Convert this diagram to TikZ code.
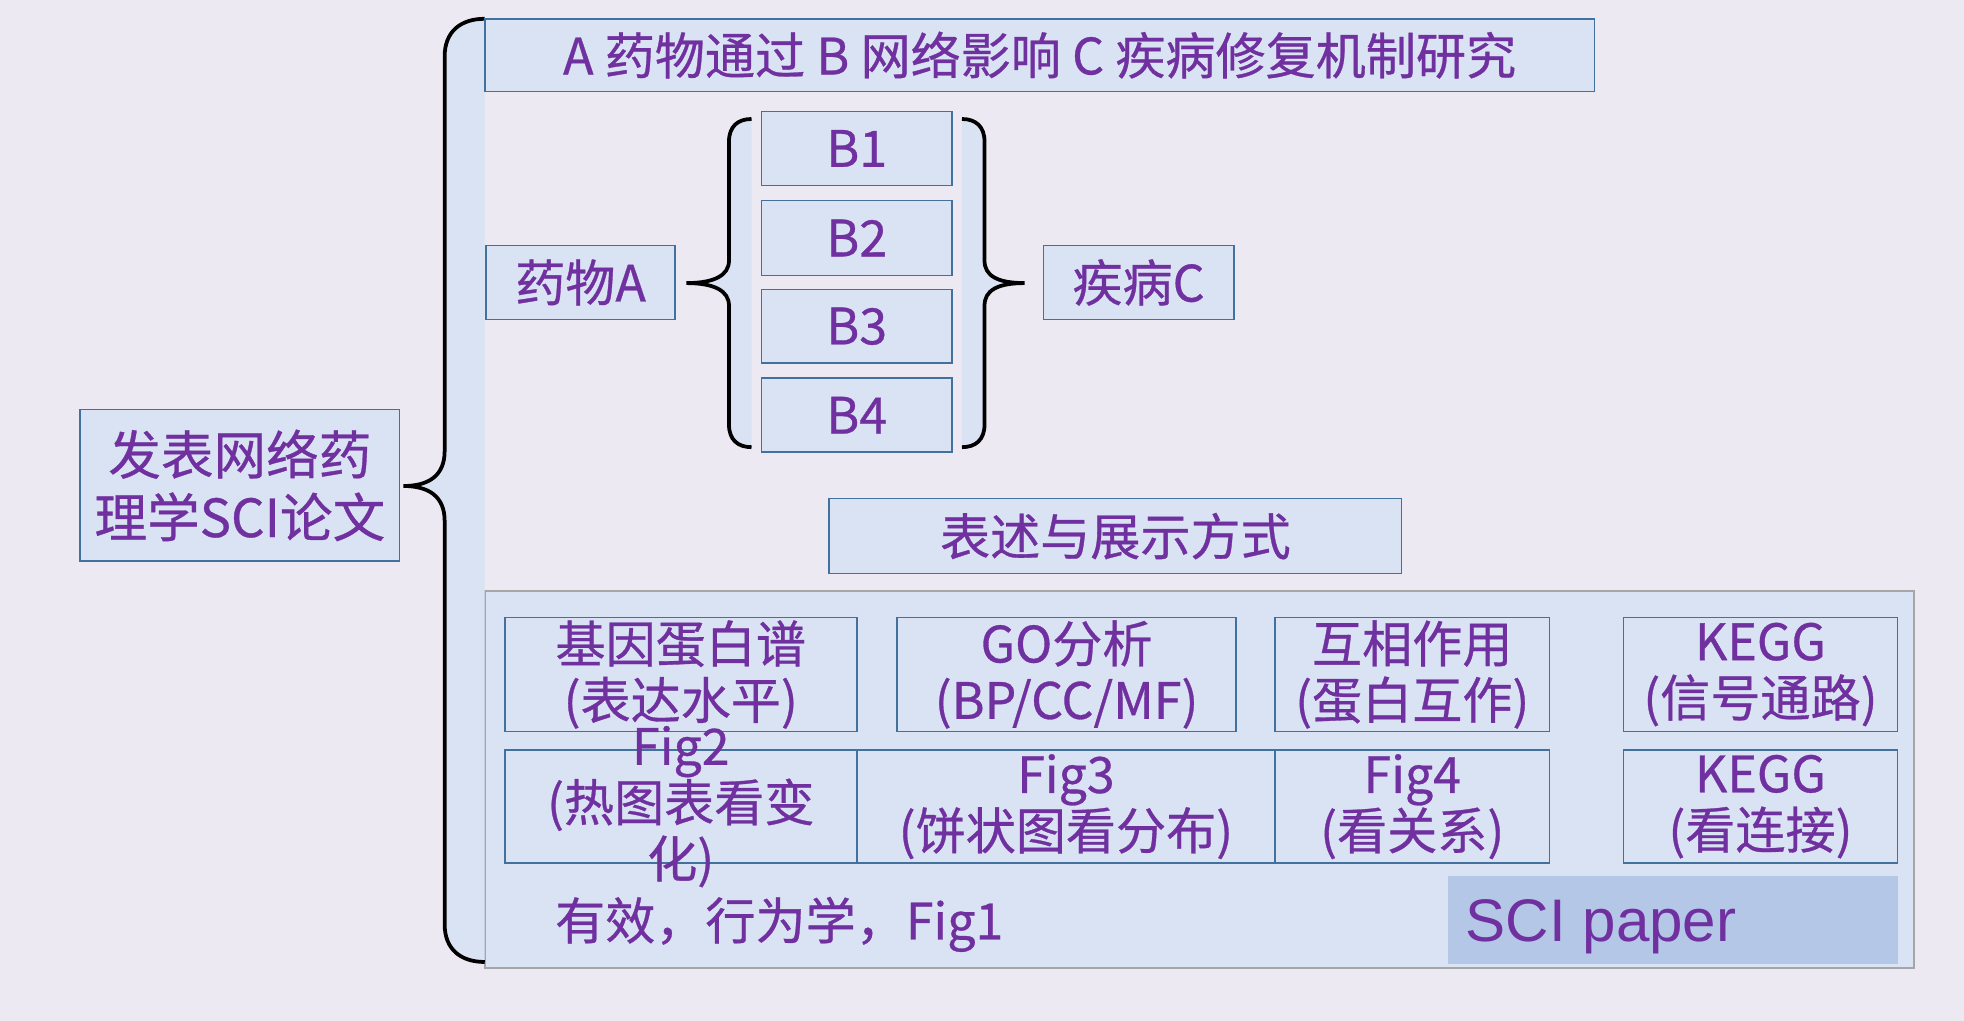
\documentclass[tikz,border=0pt]{standalone}
\usepackage{fontspec}
\setmainfont{Noto Sans CJK SC}[FakeBold=0.6]
\newfontfamily\arialf{Liberation Sans}
\definecolor{bgc}{HTML}{ECE9F2}
\definecolor{boxfill}{HTML}{DAE3F3}
\definecolor{boxline}{HTML}{41719C}
\definecolor{txt}{HTML}{7030A0}
\definecolor{contline}{HTML}{A6A6A6}
\definecolor{scifill}{HTML}{B4C7E7}
\tikzset{
  box/.style={draw=boxline, line width=1.3pt, fill=boxfill, text=txt, inner sep=0pt,
    align=center, font=\fontsize{40}{45}\selectfont},
  bracefill/.style={fill=boxfill, draw=none},
  braceline/.style={draw=black, line width=3pt},
  plaintext/.style={text=txt, inner sep=0pt, align=center, font=\fontsize{40}{45}\selectfont}
}
\begin{document}
\begin{tikzpicture}[x=1pt, y=-1pt]
\useasboundingbox (0,0) rectangle (1568,815);
\fill[bgc] (0,0) rectangle (1568,815);

% big container
\node[draw=contline, line width=1.3pt, fill=boxfill, minimum width=1141pt, minimum height=301pt, inner sep=0pt] (cont) at (957.5,622.5) {};

% big brace
\fill[bracefill] (387,15) .. controls (368,15) and (355,25) .. (355,45) -- (355,360)
  .. controls (355,380) and (342,388) .. (322,388) .. controls (342,388) and (355,396) .. (355,416)
  -- (355,738) .. controls (355,758) and (368,768) .. (387,768) -- cycle;
\draw[braceline] (387,15) .. controls (368,15) and (355,25) .. (355,45) -- (355,360)
  .. controls (355,380) and (342,388) .. (322,388) .. controls (342,388) and (355,396) .. (355,416)
  -- (355,738) .. controls (355,758) and (368,768) .. (387,768);

% small left brace
\fill[bracefill] (600,95) .. controls (589,95) and (582,101) .. (582,113) -- (582,208)
  .. controls (582,220) and (570,226) .. (548,226) .. controls (570,226) and (582,232) .. (582,244)
  -- (582,339) .. controls (582,351) and (589,357) .. (600,357) -- cycle;
\draw[braceline] (600,95) .. controls (589,95) and (582,101) .. (582,113) -- (582,208)
  .. controls (582,220) and (570,226) .. (548,226) .. controls (570,226) and (582,232) .. (582,244)
  -- (582,339) .. controls (582,351) and (589,357) .. (600,357);

% small right brace
\fill[bracefill] (768,95) .. controls (779,95) and (786,101) .. (786,113) -- (786,208)
  .. controls (786,220) and (796,226) .. (818,226) .. controls (796,226) and (786,232) .. (786,244)
  -- (786,339) .. controls (786,351) and (779,357) .. (768,357) -- cycle;
\draw[braceline] (768,95) .. controls (779,95) and (786,101) .. (786,113) -- (786,208)
  .. controls (786,220) and (796,226) .. (818,226) .. controls (796,226) and (786,232) .. (786,244)
  -- (786,339) .. controls (786,351) and (779,357) .. (768,357);

% top-level nodes
\node[box, font=\fontsize{42}{50}\selectfont, minimum width=255pt, minimum height=121pt] (main) at (191.5,387.5) {发表网络药\\理学SCI论文};
\node[box, minimum width=886pt, minimum height=58pt] (title) at (830,44) {A 药物通过 B 网络影响 C 疾病修复机制研究};
\node[box, minimum width=151pt, minimum height=59pt] (drugA) at (463.5,225.5) {药物A};
\node[box, minimum width=152pt, minimum height=59pt] (b1) at (684,118.5) {B1};
\node[box, minimum width=152pt, minimum height=60pt] (b2) at (684,190) {B2};
\node[box, minimum width=152pt, minimum height=59pt] (b3) at (684,260.5) {B3};
\node[box, minimum width=152pt, minimum height=59pt] (b4) at (684,331.5) {B4};
\node[box, minimum width=152pt, minimum height=59pt] (disC) at (909,225.5) {疾病C};
\node[box, minimum width=457pt, minimum height=60pt] (expr) at (890.5,428) {表述与展示方式};

% row 1
\node[box, minimum width=281pt, minimum height=91pt] (r1a) at (543.5,538.5) {基因蛋白谱\\(表达水平)};
\node[box, minimum width=271pt, minimum height=91pt] (r1b) at (851.5,538.5) {GO分析\\(BP/CC/MF)};
\node[box, minimum width=219pt, minimum height=91pt] (r1c) at (1127.5,538.5) {互相作用\\(蛋白互作)};
\node[box, minimum width=219pt, minimum height=91pt] (r1d) at (1405.5,538.5) {KEGG\\(信号通路)};

% row 2
\node[box, minimum width=281pt, minimum height=90pt] (r2a) at (543.5,644) {};
\node[box, minimum width=334pt, minimum height=90pt] (r2b) at (851,644) {Fig3\\(饼状图看分布)};
\node[box, minimum width=219pt, minimum height=90pt] (r2c) at (1127.5,644) {Fig4\\(看关系)};
\node[box, minimum width=219pt, minimum height=90pt] (r2d) at (1405.5,644) {KEGG\\(看连接)};
\node[plaintext] (r2atext) at (r2a.center) {Fig2\\(热图表看变\\化)};

% bottom line
\node[plaintext, anchor=west] (fig1) at (443,738) {有效，行为学，Fig1};
\fill[scifill] (1156,699) rectangle (1515,770);
\node[text=txt, inner sep=0pt, anchor=base west, font=\arialf\fontsize{48}{54}\selectfont] (sci) at (1170,752) {SCI paper};
\end{tikzpicture}
\end{document}
